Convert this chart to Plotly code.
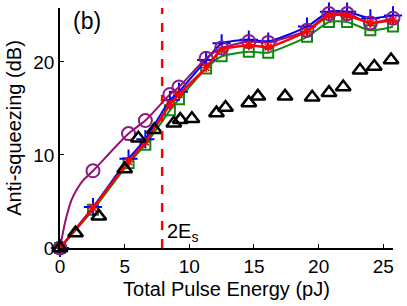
import plotly.graph_objects as go

# Marker x positions (pJ)
energy = [0, 2.55, 5.3, 6.6, 8.5, 9.2, 11.3, 12.5, 14.6, 16.1, 19.1, 20.8, 22.2, 24.0, 25.75]
blue_vals = [0, 4.4, 9.6, 11.7, 15.9, 16.8, 20.2, 22.0, 22.4, 22.2, 23.8, 25.4, 25.4, 24.7, 25.0]
red_vals = [0, 4.3, 9.3, 11.4, 15.4, 16.5, 19.4, 21.3, 21.8, 21.6, 23.3, 25.0, 25.0, 24.2, 24.5]
green_vals = [0, 4.1, 9.1, 11.1, 14.8, 16.0, 19.3, 20.6, 21.1, 21.0, 22.7, 24.3, 24.3, 23.4, 23.8]
purple_vals = [0, 8.3, 12.3, 13.7, 16.5, 17.3, 20.4, 21.5, 22.2, 22.1, 23.4, 25.2, 25.2, 24.2, 24.7]
# purple theory curve (denser near origin)
purple_line_x = [0, 0.4, 0.9, 1.3, 1.8, 2.55, 5.3, 6.6, 8.5, 9.2, 11.3, 12.5, 14.6, 16.1, 19.1, 20.8, 22.2, 24.0, 25.75]
purple_line_y = [0, 2.8, 5.2, 6.3, 7.3, 8.3, 12.3, 13.7, 16.5, 17.3, 20.4, 21.5, 22.2, 22.1, 23.4, 25.2, 25.2, 24.2, 24.7]
# experimental data (triangles)
exp_x = [0, 1.2, 3.0, 5.0, 6.06, 7.3, 8.8, 9.3, 10.2, 12.1, 12.8, 14.6, 15.3, 17.4, 19.5, 20.8, 21.9, 23.2, 24.3, 25.6]
exp_y = [0, 1.6, 3.4, 8.5, 11.8, 12.7, 13.4, 13.8, 13.9, 14.5, 15.1, 15.6, 16.3, 16.3, 16.2, 16.7, 17.3, 19.1, 19.5, 20.2]
es_line = 7.9
x_ticks = [0, 5, 10, 15, 20, 25]
y_ticks = [0, 10, 20]

fig = go.Figure()

fig.add_trace(go.Scatter(x=energy, y=green_vals, mode="lines+markers", line=dict(color="#118811", width=2, shape="spline", smoothing=0.6),
                         marker=dict(symbol="square-open", size=10, color="#118811", line=dict(width=2)), cliponaxis=False))
fig.add_trace(go.Scatter(x=energy, y=blue_vals, mode="lines+markers", line=dict(color="#0000FF", width=2, shape="spline", smoothing=0.6),
                         marker=dict(symbol="cross-thin-open", size=13, color="#0000FF", line=dict(width=2, color="#0000FF")), cliponaxis=False))
fig.add_trace(go.Scatter(x=purple_line_x, y=purple_line_y, mode="lines", line=dict(color="#960F6E", width=2, shape="spline", smoothing=0.6), cliponaxis=False))
fig.add_trace(go.Scatter(x=energy, y=purple_vals, mode="markers",
                         marker=dict(symbol="circle-open", size=13, color="#8B1A89", line=dict(width=2)), cliponaxis=False))
fig.add_trace(go.Scatter(x=energy, y=red_vals, mode="lines+markers", line=dict(color="#FF0000", width=2.5, shape="spline", smoothing=0.6),
                         marker=dict(symbol="asterisk-open", size=8, color="#FF0000", line=dict(width=1.5, color="#FF0000")), cliponaxis=False))
fig.add_trace(go.Scatter(x=exp_x, y=exp_y, mode="markers",
                         marker=dict(symbol="triangle-up-open", size=13, color="black", line=dict(width=2.5)), cliponaxis=False))

fig.add_shape(type="line", x0=es_line, x1=es_line, y0=0, y1=1, yref="paper",
              line=dict(color="#FF0000", width=2.5, dash="dash"))

fig.add_annotation(x=0.033, y=1.01, xref="paper", yref="paper", text="(b)", showarrow=False,
                   font=dict(size=23, color="black", family="Liberation Sans"), xanchor="left", yanchor="top")
fig.add_annotation(x=es_line + 0.25, y=0.0, text="2E<sub>s</sub>", showarrow=False,
                   font=dict(size=20, color="black", family="Liberation Sans"), xanchor="left", yanchor="bottom", yshift=1)

fig.update_layout(
    width=407, height=306,
    margin=dict(l=60, r=14, t=8, b=58),
    plot_bgcolor="white", paper_bgcolor="white",
    showlegend=False,
    font=dict(family="Liberation Sans", size=19, color="black"),
    xaxis=dict(range=[0, 25.75], tickvals=x_ticks, ticks="inside", ticklen=4, showgrid=False, zeroline=False,
               showline=True, linecolor="black", linewidth=1.5, tickcolor="black", automargin=False,
               tickfont=dict(size=19),
               title=dict(text="Total Pulse Energy (pJ)", font=dict(size=20), standoff=6)),
    yaxis=dict(range=[0, 25.8], tickvals=y_ticks, ticks="inside", ticklen=4, showgrid=False, zeroline=False,
               showline=True, linecolor="black", linewidth=1.5, tickcolor="black", automargin=False,
               tickfont=dict(size=19),
               title=dict(text="Anti-squeezing (dB)", font=dict(size=20), standoff=6)),
)

fig.write_html("out.html", config={"displayModeBar": False},
               post_script="document.body.style.margin='0';document.body.style.overflow='hidden';")
